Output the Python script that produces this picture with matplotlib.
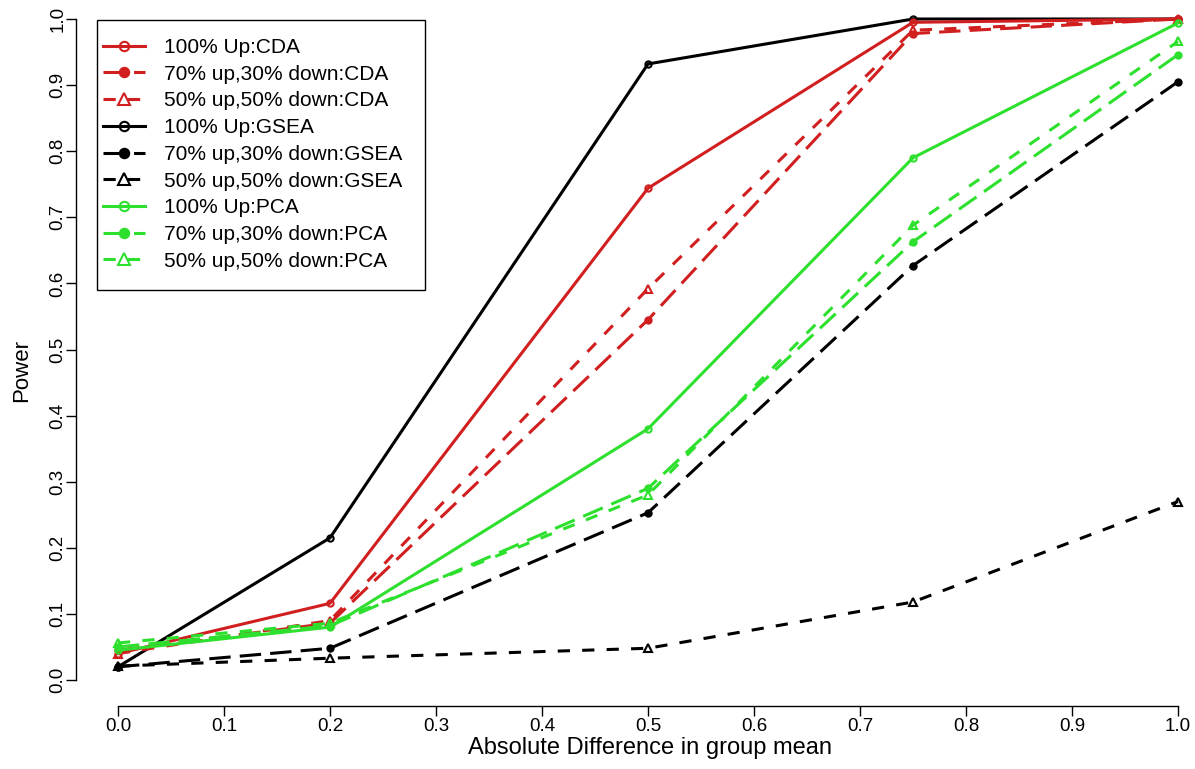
import matplotlib
matplotlib.use("Agg")
import matplotlib.pyplot as plt
from matplotlib.patches import Rectangle

plt.rcParams["font.family"] = ["Liberation Sans", "DejaVu Sans"]

# mean difference values and power for each method / direction mix
x_vals = [0.0, 0.2, 0.5, 0.75, 1.0]

cda_up = [0.040, 0.116, 0.744, 0.995, 1.000]
cda_70 = [0.045, 0.086, 0.545, 0.978, 1.000]
cda_50 = [0.040, 0.090, 0.592, 0.983, 1.000]

gsea_up = [0.020, 0.215, 0.932, 1.000, 1.000]
gsea_70 = [0.020, 0.048, 0.253, 0.627, 0.905]
gsea_50 = [0.021, 0.033, 0.048, 0.118, 0.270]

pca_up = [0.045, 0.080, 0.380, 0.790, 0.994]
pca_70 = [0.050, 0.082, 0.290, 0.663, 0.946]
pca_50 = [0.056, 0.086, 0.280, 0.688, 0.966]

x_ticks = [0.0, 0.1, 0.2, 0.3, 0.4, 0.5, 0.6, 0.7, 0.8, 0.9, 1.0]
y_ticks = [0.0, 0.1, 0.2, 0.3, 0.4, 0.5, 0.6, 0.7, 0.8, 0.9, 1.0]

RED = "#d11f1f"
BLACK = "#000000"
GREEN = "#2ee02e"

solid = "-"
longdash = (0, (7, 3))
shortdash = (0, (4, 4))

series = [
    # (values, colour, linestyle, marker, filled, label)
    (cda_up, RED, solid, "o", False, "100% Up:CDA"),
    (cda_70, RED, longdash, "o", True, "70% up,30% down:CDA"),
    (cda_50, RED, shortdash, "^", False, "50% up,50% down:CDA"),
    (gsea_up, BLACK, solid, "o", False, "100% Up:GSEA"),
    (gsea_70, BLACK, longdash, "o", True, "70% up,30% down:GSEA"),
    (gsea_50, BLACK, shortdash, "^", False, "50% up,50% down:GSEA"),
    (pca_up, GREEN, solid, "o", False, "100% Up:PCA"),
    (pca_70, GREEN, longdash, "o", True, "70% up,30% down:PCA"),
    (pca_50, GREEN, shortdash, "^", False, "50% up,50% down:PCA"),
]
draw_order = [3, 4, 5, 0, 1, 2, 6, 7, 8]

W, H = 1195, 769
fig = plt.figure(figsize=(W / 100, H / 100), dpi=100)

# plot region extends 4% past the data range on each side
x0_px, x1_px = 118, 1178
y0_px, y1_px = 680, 19
sx = (x1_px - x0_px)
sy = (y0_px - y1_px)
left = (x0_px - 0.04 * sx) / W
width = 1.08 * sx / W
bottom = (H - (y0_px + 0.04 * sy)) / H
height = 1.08 * sy / H
ax = fig.add_axes([left, bottom, width, height])

handles = [None] * len(series)
for i, idx in enumerate(draw_order):
    vals, col, ls, mk, filled, lab = series[idx]
    ms = 4.5 if mk == "o" else 6
    line, = ax.plot(x_vals, vals, color=col, linestyle=ls, linewidth=2.2,
                    marker=mk, markersize=ms, markeredgewidth=1.5,
                    markerfacecolor=col if filled else "none",
                    markeredgecolor=col, label=lab, zorder=2 + i)
    handles[idx] = line

ax.set_xlim(-0.04, 1.04)
ax.set_ylim(-0.04, 1.04)

for side in ["top", "right"]:
    ax.spines[side].set_visible(False)
ax.spines["left"].set_bounds(0, 1)
ax.spines["bottom"].set_bounds(0, 1)
ax.spines["left"].set_linewidth(1.0)
ax.spines["bottom"].set_linewidth(1.0)

ax.set_xticks(x_ticks)
ax.set_xticklabels([f"{t:.1f}" for t in x_ticks])
ax.set_yticks(y_ticks)
ax.set_yticklabels([f"{t:.1f}" for t in y_ticks], rotation=90, va="center")
ax.tick_params(axis="both", direction="out", length=7.5, width=1.0,
               labelsize=13.5)
ax.tick_params(axis="x", pad=1)
ax.tick_params(axis="y", pad=-1)

fig.text(650 / W, 1 - 748 / H, "Absolute Difference in group mean",
         ha="center", va="center", fontsize=17)
fig.text(22 / W, 1 - 370 / H, "Power", ha="center", va="center",
         rotation=90, fontsize=16)

# legend box drawn by hand, entries placed inside it
box = Rectangle((97 / W, 1 - 290 / H), 328 / W, 270 / H,
                transform=fig.transFigure, facecolor="white",
                edgecolor="black", linewidth=1.0, zorder=19)
fig.patches.append(box)

leg = fig.legend(handles=handles, loc="upper left",
                 bbox_to_anchor=(103 / W, 1 - 38 / H),
                 bbox_transform=fig.transFigure,
                 fontsize=15, frameon=False,
                 handlelength=2.0, handletextpad=0.95,
                 labelspacing=0.37, borderpad=0, borderaxespad=0,
                 markerscale=1.5)
leg.set_zorder(20)

fig.savefig("out.png", dpi=100, facecolor="white")
